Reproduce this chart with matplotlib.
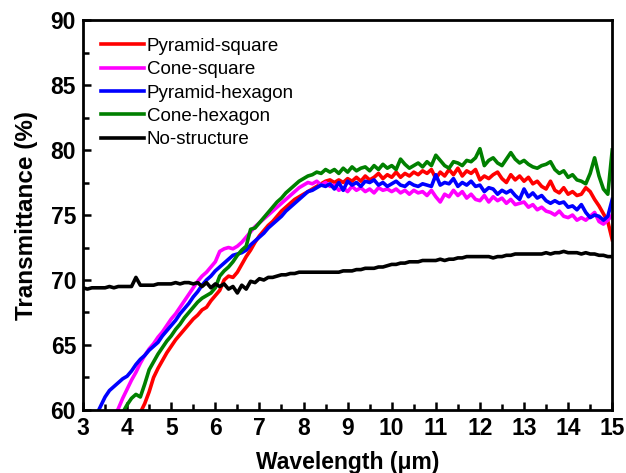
import numpy as np
import matplotlib
matplotlib.use("Agg")
import matplotlib.pyplot as plt
from matplotlib.ticker import MultipleLocator

# wavelength grid (um), 3.0 .. 15.0 in steps of 0.1
wavelength = np.round(np.arange(3.0, 15.0001, 0.1), 1)

pyramid_square = [
    52.0, 52.6, 53.2, 53.8, 54.4, 55.0, 55.6, 56.2, 56.8, 57.4,   # 3.0
    58.0, 58.6, 59.2, 59.8, 60.5, 61.4, 62.5, 63.2, 63.8, 64.4,   # 4.0
    64.9, 65.4, 65.8, 66.2, 66.6, 67.0, 67.3, 67.7, 67.9, 68.4,   # 5.0
    68.8, 69.2, 70.0, 70.3, 70.2, 70.6, 71.2, 71.8, 72.3, 72.9,   # 6.0
    73.4, 73.8, 74.2, 74.5, 74.9, 75.3, 75.6, 75.9, 76.2, 76.4,   # 7.0
    76.6, 76.8, 77.0, 77.2, 77.4, 77.6, 77.7, 77.5, 77.7, 77.5,   # 8.0
    77.8, 77.6, 77.9, 77.6, 78.0, 77.7, 77.9, 78.2, 77.8, 78.1,   # 9.0
    77.9, 78.3, 77.9, 78.2, 78.0, 78.3, 78.1, 78.4, 78.2, 78.5,   # 10.0
    77.8, 78.3, 78.0, 78.5, 78.1, 78.6, 78.0, 78.4, 78.2, 78.5,   # 11.0
    77.7, 78.0, 77.8, 78.1, 78.3, 77.8, 77.5, 78.1, 77.7, 78.0,   # 12.0
    77.6, 77.9, 77.4, 77.6, 77.2, 77.0, 77.6, 76.9, 76.7, 77.1,   # 13.0
    76.6, 76.8, 76.5, 76.6, 77.1, 76.8, 76.2, 75.7, 75.1, 74.5,   # 14.0
    73.1]

cone_square = [
    55.5, 56.0, 56.6, 57.2, 57.8, 58.4, 59.0, 59.5, 60.1, 60.9,
    61.6, 62.3, 62.9, 63.6, 64.2, 64.7, 65.1, 65.6, 66.0, 66.5,
    67.0, 67.4, 67.9, 68.4, 68.9, 69.4, 69.9, 70.3, 70.6, 71.0,
    71.4, 72.2, 72.4, 72.5, 72.4, 72.6, 72.9, 73.3, 73.7, 74.1,
    74.4, 74.7, 75.0, 75.3, 75.6, 75.9, 76.2, 76.5, 76.8, 77.1,
    77.3, 77.5, 77.4, 77.6, 77.3, 77.5, 77.2, 77.3, 76.9, 77.1,
    76.8, 77.2, 76.9, 77.1, 76.8, 77.0, 76.7, 77.1, 76.9, 77.0,
    76.8, 77.0, 76.7, 76.9, 76.6, 76.9, 76.7, 76.8, 76.5, 76.9,
    76.4, 76.0, 76.6, 76.4, 76.9, 76.5, 76.8, 76.3, 76.6, 76.2,
    76.1, 76.5, 76.0, 76.4, 76.1, 76.3, 75.9, 76.2, 75.8, 75.9,
    76.0, 75.6, 75.8, 75.4, 75.6, 75.3, 75.2, 75.0, 75.3, 74.9,
    74.8, 75.0, 74.6, 74.8, 74.6, 74.9, 75.2, 74.5, 74.3, 74.6,
    75.0]

pyramid_hexagon = [
    57.5, 58.2, 58.9, 59.6, 60.3, 61.0, 61.5, 61.8, 62.1, 62.4,
    62.6, 63.0, 63.5, 63.9, 64.2, 64.6, 64.9, 65.2, 65.7, 66.1,
    66.5, 66.9, 67.4, 67.8, 68.2, 68.7, 69.1, 69.6, 70.0, 70.3,
    70.7, 71.0, 71.3, 71.6, 71.9, 72.0, 72.1, 72.3, 72.7, 73.0,
    73.3, 73.6, 74.0, 74.3, 74.6, 74.9, 75.3, 75.6, 75.9, 76.2,
    76.5, 76.8, 76.9, 77.1, 77.3, 77.2, 77.4, 77.0, 77.5, 76.9,
    77.6, 77.3, 77.5, 77.2, 77.6, 77.5, 77.7, 77.3, 77.5, 77.2,
    77.4, 77.6, 77.3, 77.2, 77.5, 77.3, 77.2, 77.4, 77.3, 77.2,
    78.1, 77.3, 77.5, 77.4, 77.8, 77.2, 77.5, 77.3, 77.6, 77.2,
    77.3, 76.8, 77.1, 77.0, 76.6, 76.9, 76.7, 76.9, 76.5, 76.2,
    77.0, 76.4, 76.7, 76.3, 76.5, 76.1, 75.9, 76.1, 75.9, 76.0,
    75.6, 75.7, 75.4, 75.8, 75.2, 74.8, 75.0, 74.9, 74.6, 74.9,
    76.2]

cone_hexagon = [
    54.5, 55.1, 55.7, 56.3, 56.9, 57.5, 58.1, 58.7, 59.3, 59.8,
    60.4, 60.9, 61.2, 61.0, 62.0, 63.1, 63.7, 64.3, 64.8, 65.3,
    65.7, 66.2, 66.6, 67.1, 67.5, 67.9, 68.3, 68.6, 68.8, 69.0,
    69.4, 70.3, 70.7, 71.0, 71.4, 71.9, 72.3, 72.6, 73.9, 74.0,
    74.4, 74.8, 75.2, 75.6, 76.0, 76.3, 76.7, 77.0, 77.3, 77.6,
    77.8, 78.0, 78.1, 78.3, 78.2, 78.5, 78.3, 78.5, 78.2, 78.6,
    78.3, 78.7, 78.4, 78.6, 78.7, 78.4, 78.8, 78.5, 78.9, 78.6,
    78.8, 78.5, 79.3, 78.9, 78.6, 78.8, 79.0, 78.7, 79.1, 78.8,
    79.6, 79.2, 78.8, 78.6, 79.1, 79.0, 78.8, 79.2, 79.1, 79.4,
    80.1, 78.8, 79.2, 79.4, 79.0, 78.8, 79.3, 79.8, 79.3, 79.0,
    79.2, 78.9, 78.7, 78.6, 78.8, 78.9, 79.1, 78.5, 78.2, 78.4,
    77.9, 78.1, 77.7, 77.6, 77.4, 78.2, 79.4, 78.0, 77.0, 76.6,
    80.0]

no_structure = [
    69.4, 69.3, 69.4, 69.4, 69.4, 69.4, 69.5, 69.4, 69.5, 69.5,
    69.5, 69.5, 70.2, 69.6, 69.6, 69.6, 69.6, 69.7, 69.7, 69.7,
    69.7, 69.8, 69.7, 69.8, 69.8, 69.7, 69.8, 69.5, 69.8, 69.4,
    69.7, 69.5, 69.7, 69.3, 69.5, 69.0, 69.6, 69.3, 69.9, 69.8,
    70.1, 70.0, 70.2, 70.2, 70.3, 70.4, 70.4, 70.5, 70.5, 70.6,
    70.6, 70.6, 70.6, 70.6, 70.6, 70.6, 70.6, 70.6, 70.6, 70.7,
    70.7, 70.7, 70.8, 70.8, 70.9, 70.9, 70.9, 71.0, 71.0, 71.1,
    71.2, 71.2, 71.3, 71.3, 71.4, 71.4, 71.4, 71.5, 71.5, 71.5,
    71.5, 71.6, 71.5, 71.6, 71.6, 71.7, 71.7, 71.8, 71.8, 71.8,
    71.8, 71.8, 71.8, 71.7, 71.8, 71.8, 71.9, 71.9, 72.0, 72.0,
    72.0, 72.0, 72.0, 72.0, 72.0, 72.1, 72.0, 72.1, 72.1, 72.2,
    72.1, 72.1, 72.1, 72.0, 72.1, 72.0, 72.0, 71.9, 71.9, 71.8,
    71.8]

series = [
    ("Pyramid-square", pyramid_square, "#ff0000"),
    ("Cone-square", cone_square, "#ff00ff"),
    ("Pyramid-hexagon", pyramid_hexagon, "#0000ff"),
    ("Cone-hexagon", cone_hexagon, "#008000"),
    ("No-structure", no_structure, "#000000"),
]

plt.rcParams['font.family'] = ['Liberation Sans', 'DejaVu Sans']

fig = plt.figure(figsize=(6.26, 4.73), dpi=100)
ax = fig.add_axes([0.1326, 0.1332, 0.8454, 0.8245])

for name, vals, col in series:
    ax.plot(wavelength, vals, color=col, lw=2.6, label=name)

ax.set_xlim(3, 15)
ax.set_ylim(60, 90)
ax.xaxis.set_major_locator(MultipleLocator(1))
ax.xaxis.set_minor_locator(MultipleLocator(0.5))
ax.yaxis.set_major_locator(MultipleLocator(5))
ax.yaxis.set_minor_locator(MultipleLocator(2.5))
ax.tick_params(which='both', direction='in', top=False, right=False, width=1.8)
ax.tick_params(which='major', length=6, labelsize=16.5, pad=5)
ax.tick_params(which='minor', length=4)
for lab in ax.get_xticklabels() + ax.get_yticklabels():
    lab.set_fontweight('bold')
for sp in ax.spines.values():
    sp.set_linewidth(2)

ax.set_xlabel('Wavelength (\u03bcm)', fontsize=16.5, fontweight='bold', labelpad=8)
ax.set_ylabel('Transmittance (%)', fontsize=17.5, fontweight='bold', labelpad=9)

ax.legend(loc='upper left', frameon=False, fontsize=13.5, handlelength=2.3,
          handletextpad=0.15, labelspacing=0.33, borderaxespad=0.4,
          borderpad=0.55)

fig.savefig('out.png', dpi=100)
